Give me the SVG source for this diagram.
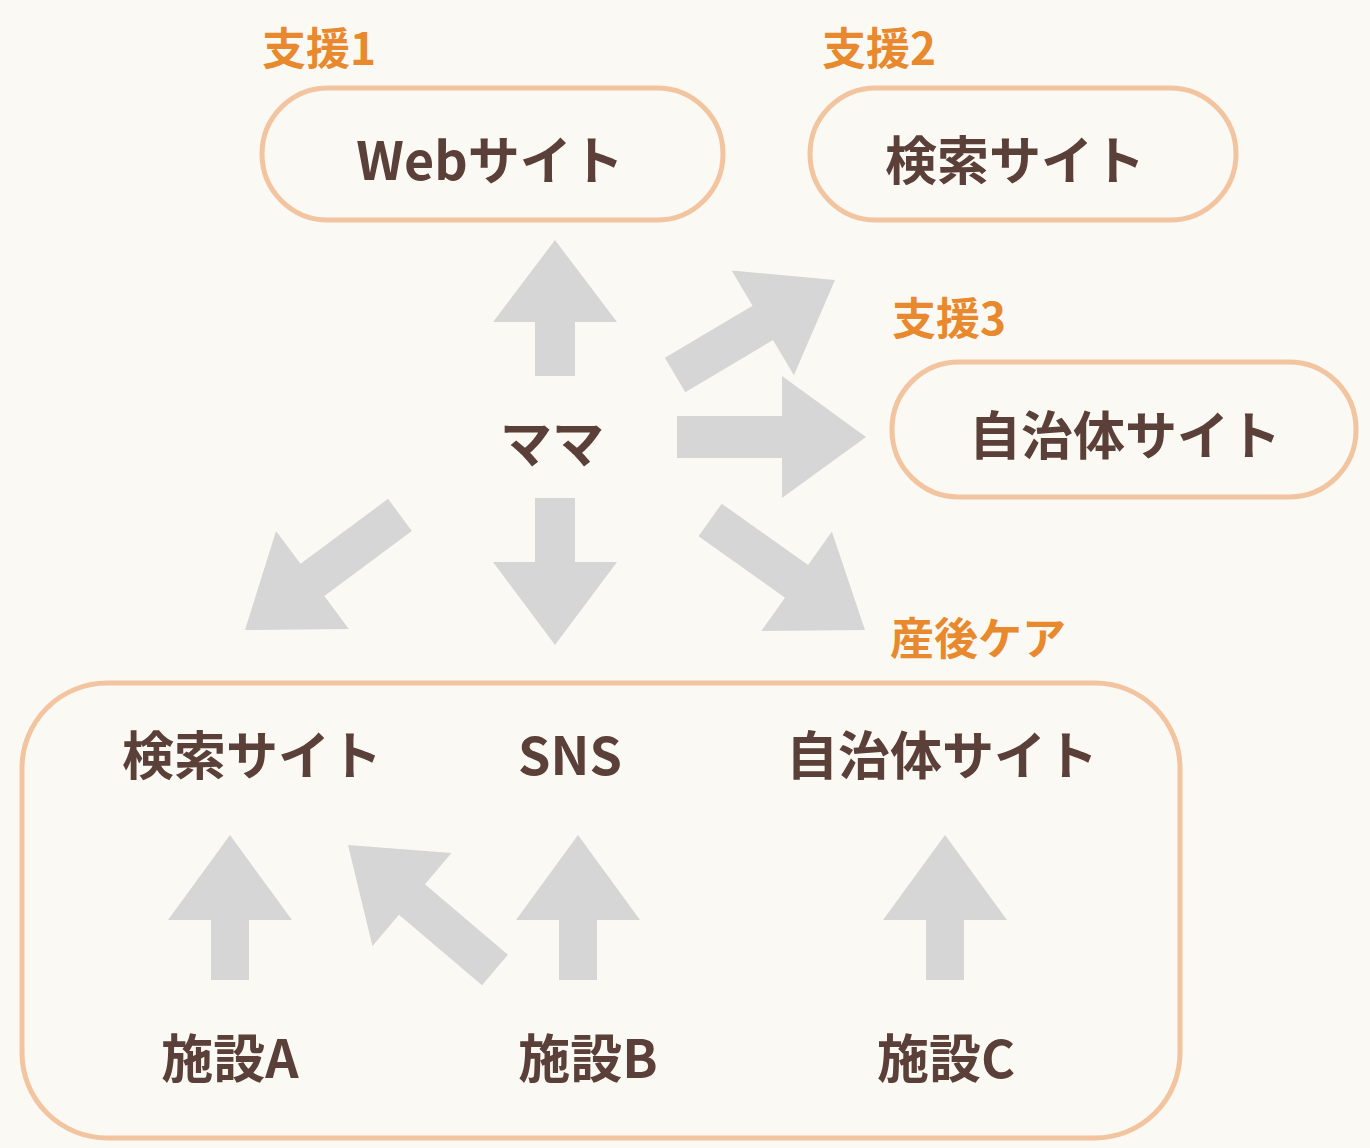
<svg xmlns="http://www.w3.org/2000/svg" width="1370" height="1148" viewBox="0 0 1370 1148">
<style>
.lbl{font-family:"Noto Sans CJK JP","Noto Sans",sans-serif;font-weight:700;font-size:44px;fill:#e8892e}
.t{font-family:"Noto Sans CJK JP","Noto Sans",sans-serif;font-weight:700;font-size:52px;fill:#5a4038;text-anchor:middle;dominant-baseline:central}
.box{fill:none;stroke:#f2c4a0;stroke-width:5}
.ar{fill:#d6d6d6}
</style>
<rect width="1370" height="1148" fill="#fbf9f4"/>
<g id="web"><text class="lbl" x="262" y="65">支援1</text><rect class="box" x="262" y="88" width="461" height="132" rx="66"/><text class="t" x="490" y="157">Webサイト</text></g>
<g id="search"><text class="lbl" x="822" y="65">支援2</text><rect class="box" x="810" y="88" width="426" height="132" rx="66"/><text class="t" x="1015" y="157">検索サイト</text></g>
<g id="gov"><text class="lbl" x="892" y="335">支援3</text><rect class="box" x="892" y="362" width="464" height="135" rx="67"/><text class="t" x="1125" y="432">自治体サイト</text></g>
<g id="mama"><text class="t" x="552" y="440">ママ</text></g>
<g id="care"><text class="lbl" x="890" y="655">産後ケア</text><rect class="box" x="22" y="683" width="1158" height="455" rx="85"/>
<text class="t" x="252" y="752">検索サイト</text><text class="t" x="570" y="752">SNS</text><text class="t" x="942" y="752">自治体サイト</text>
<text class="t" x="230" y="1055">施設A</text><text class="t" x="588" y="1055">施設B</text><text class="t" x="946" y="1055">施設C</text></g>
<g id="connectors" class="ar">
<polygon transform="translate(555,240) rotate(-90)" points="0,0 -82,-62 -82,-20 -136,-20 -136,20 -82,20 -82,62"/>
<polygon transform="translate(555,645) rotate(90)" points="0,0 -83,-62 -83,-20 -147,-20 -147,20 -83,20 -83,62"/>
<polygon transform="translate(866,437)" points="0,0 -84,-61 -84,-21 -189,-21 -189,21 -84,21 -84,61"/>
<polygon transform="translate(835,280) rotate(-30.7)" points="0,0 -84,-61 -84,-20 -186,-20 -186,20 -84,20 -84,61"/>
<polygon transform="translate(865,630) rotate(35.4)" points="0,0 -84,-61 -84,-20 -190,-20 -190,20 -84,20 -84,61"/>
<polygon transform="translate(245,630) rotate(143.4)" points="0,0 -84,-61 -84,-20 -193,-20 -193,20 -84,20 -84,61"/>
<polygon transform="translate(230,835) rotate(-90)" points="0,0 -85,-62 -85,-19 -145,-19 -145,19 -85,19 -85,62"/>
<polygon transform="translate(578,835) rotate(-90)" points="0,0 -85,-62 -85,-19 -145,-19 -145,19 -85,19 -85,62"/>
<polygon transform="translate(945,835) rotate(-90)" points="0,0 -85,-62 -85,-19 -145,-19 -145,19 -85,19 -85,62"/>
<polygon transform="translate(348,845) rotate(220.4)" points="0,0 -84,-61 -84,-20 -193,-20 -193,20 -84,20 -84,61"/>
</g>
</svg>
